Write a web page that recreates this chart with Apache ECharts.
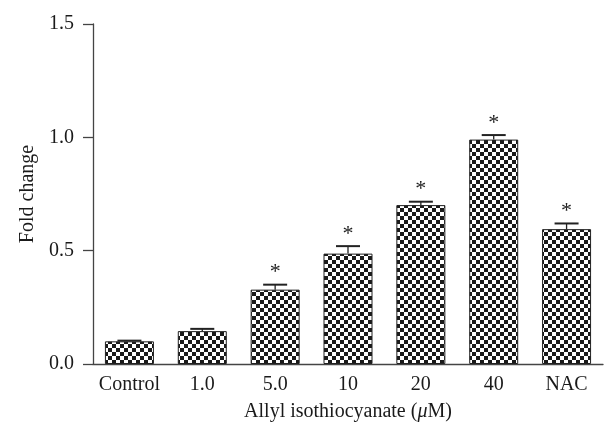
<!DOCTYPE html>
<html><head><meta charset="utf-8">
<script src="https://cdn.jsdelivr.net/npm/echarts@6/dist/echarts.min.js"></script>
<style>html,body{margin:0;padding:0;background:#fff}#c{width:605px;height:429px}</style>
</head><body><div id="c"></div>
<script>
const categories = ['Control','1.0','5.0','10','20','40','NAC'];
const values = [0.10, 0.145, 0.328, 0.487, 0.701, 0.99, 0.595];
const errUpper = [0.103, 0.155, 0.35, 0.52, 0.716, 1.01, 0.62];
const significant = [false, false, true, true, true, true, true];
const yTicks = [0, 0.5, 1.0, 1.5];

const tile = document.createElement('canvas');
tile.width = 8; tile.height = 8;
const tc = tile.getContext('2d');
tc.fillStyle = '#fff'; tc.fillRect(0,0,8,8);
tc.fillStyle = '#1a1a1a'; tc.fillRect(0,0,4,4); tc.fillRect(4,4,4,4);

const font = 'Liberation Serif';
const txt = '#1a1a1a';
const chart = echarts.init(document.getElementById('c'));
chart.setOption({
  animation: false,
  grid: {left: 93, right: 2, top: 24, bottom: 65, outerBoundsMode: 'none', containLabel: false},
  xAxis: {
    type: 'category', data: categories,
    axisLine: {lineStyle: {color: '#444', width: 1.3}},
    axisTick: {alignWithLabel: true, length: 8, lineStyle: {color: '#444', width: 1.3}},
    axisLabel: {fontFamily: font, fontSize: 20, color: txt, margin: 11, interval: 0, hideOverlap: false},
    name: 'Allyl isothiocyanate ({i|μ}M)', nameLocation: 'middle', nameGap: 38,
    nameTextStyle: {fontFamily: font, fontSize: 20, color: txt,
      rich: {i: {fontFamily: font, fontStyle: 'italic', fontSize: 20, color: txt}}}
  },
  yAxis: {
    type: 'value', min: 0, max: 1.5, interval: 0.5,
    axisLine: {show: true, lineStyle: {color: '#444', width: 1.3}},
    axisTick: {show: true, length: 10, lineStyle: {color: '#444', width: 1.3}},
    splitLine: {show: false},
    axisLabel: {fontFamily: font, fontSize: 20, color: txt, margin: 19,
      formatter: v => v.toFixed(1)},
    name: 'Fold change', nameLocation: 'middle', nameGap: 55,
    nameTextStyle: {fontFamily: font, fontSize: 20, color: txt}
  },
  series: [
    {type: 'bar', data: values, barWidth: 49,
     itemStyle: {color: {image: tile, repeat: 'repeat'}, borderColor: '#222', borderWidth: 1}},
    {type: 'custom', data: values.map((v,i)=>[i, v, errUpper[i], significant[i]?1:0]), z: 5,
     renderItem: function(params, api){
       const i = api.value(0);
       const top = api.coord([i, api.value(1)]);
       const up = api.coord([i, api.value(2)]);
       const children = [
         {type:'line', shape:{x1:top[0], y1:top[1], x2:up[0], y2:up[1]}, style:{stroke:'#222', lineWidth:1.3}},
         {type:'line', shape:{x1:up[0]-12, y1:up[1], x2:up[0]+12, y2:up[1]}, style:{stroke:'#222', lineWidth:2}}
       ];
       if (api.value(3)) {
         children.push({type:'text', style:{text:'*', x:up[0], y:up[1]-1, textAlign:'center', textVerticalAlign:'bottom', font:'22px "Liberation Serif"', fill:'#222'}});
       }
       return {type:'group', children};
     }}
  ]
});
</script></body></html>
